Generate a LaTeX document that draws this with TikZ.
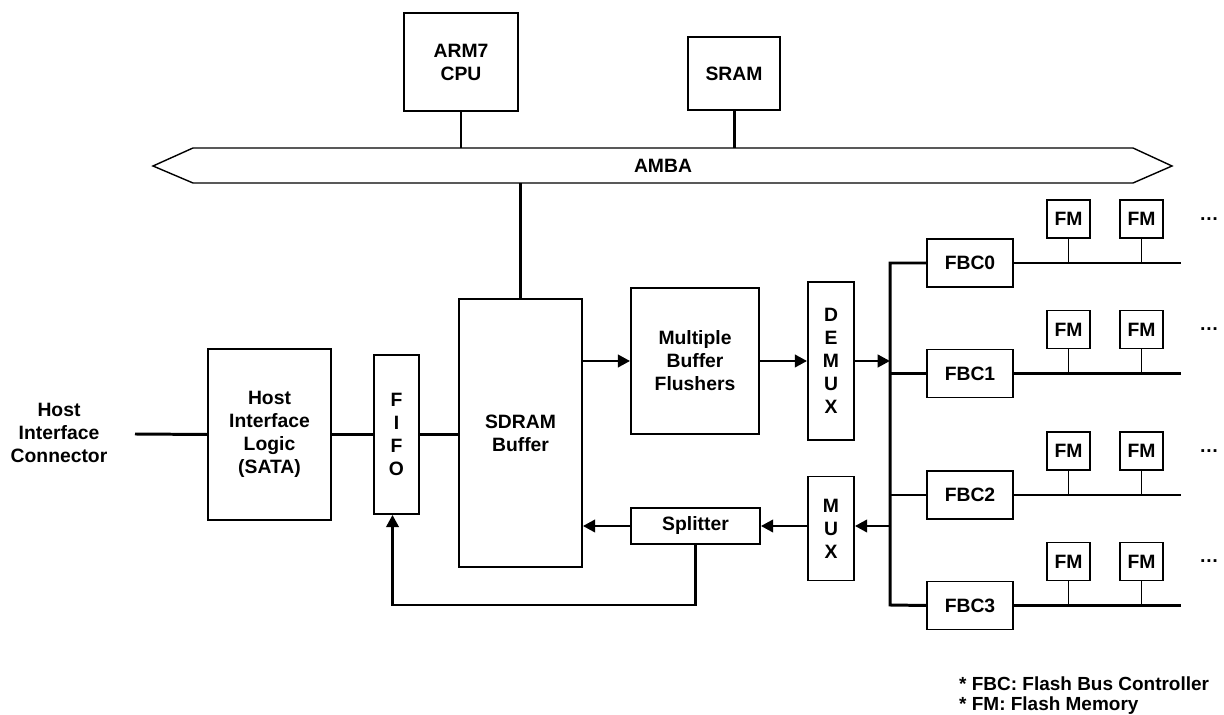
\documentclass[tikz,border=0pt]{standalone}
\usepackage{fontspec}
\setmainfont{Liberation Sans}
\usetikzlibrary{arrows.meta}

\begin{document}
\begin{tikzpicture}[x=0.02cm,y=-0.02cm,
  ssdfont/.style={font=\fontsize{11}{13.1}\selectfont\bfseries},
  ssdblk/.style={draw, line width=1pt, ssdfont, align=center, inner sep=0pt},
  ssdwire/.style={line width=1.7pt},
  ssdarr/.style={ssdwire, -{Triangle[length=7pt,width=7pt]}},
  ssdtap/.style={line width=0.7pt}]
  \useasboundingbox (0,0) rectangle (1224,715);
  % CPU, SRAM und AMBA-Bus
  \node[ssdblk, minimum width=2.28cm, minimum height=1.96cm] (cpu) at (461,62) {ARM7\\CPU};
  \node[ssdblk, minimum width=1.84cm, minimum height=1.46cm] (sram) at (734,73.5) {SRAM};
  \draw[line width=0.8pt] (153,166) -- (193,148) -- (1133,148) -- (1172,166) -- (1133,183) -- (193,183) -- cycle;
  \node[ssdfont] (amba) at (663,166) {AMBA};
  \coordinate (busT) at (0,148);
  \coordinate (busB) at (0,183);
  % Host-Seite
  \node[ssdfont, align=center] (conn) at (59,433) {Host\\Interface\\Connector};
  \coordinate (hic) at (135,434);
  \node[ssdblk, minimum width=2.46cm, minimum height=3.42cm] (host) at (269.5,434.5) {Host\\Interface\\Logic\\(SATA)};
  \node[ssdblk, minimum width=0.9cm, minimum height=3.18cm] (fifo) at (396.5,434.5) {F\\I\\F\\O};
  \node[ssdblk, minimum width=2.46cm, minimum height=5.36cm] (sdram) at (520.5,433) {SDRAM\\Buffer};
  % Flusher, Splitter, (De)Mux
  \node[ssdblk, minimum width=2.56cm, minimum height=2.92cm] (mbf) at (695,361) {Multiple\\Buffer\\Flushers};
  \node[ssdblk, minimum width=0.92cm, minimum height=3.16cm] (demux) at (831,361) {D\\E\\M\\U\\X};
  \node[ssdblk, minimum width=0.92cm, minimum height=2.08cm] (mux) at (831,528.5) {M\\U\\X};
  \node[ssdblk, minimum width=2.58cm, minimum height=0.72cm] (split) at (695.5,526) {Splitter};
  \coordinate (vbT) at (890,263);
  \coordinate (vbB) at (890,605);
  % Flash-Kanaele
  \foreach \i/\y in {0/263,1/373.5,2/495,3/605.5} {
    \node[ssdblk, minimum width=1.72cm, minimum height=0.96cm] (fbc\i) at (970,\y) {FBC\i};
    \coordinate (end\i) at (1181,\y);
    \draw[ssdwire] (fbc\i.east) -- (end\i);
    \foreach \j/\x in {a/1068.5,b/1141.5} {
      \node[ssdblk, minimum width=0.86cm, minimum height=0.76cm] (fm\i\j) at (\x,\y-44) {FM};
      \draw[ssdtap] (fm\i\j.south) -- (fm\i\j.south |- end\i);
    }
    \node[ssdfont] (dots\i) at (1209,\y-44) {…};
  }
  \draw[ssdwire] (fbc0.west) -| (vbB) -- (fbc3.west);
  \draw[ssdwire] (fbc1.west -| vbT) -- (fbc1.west);
  \draw[ssdwire] (fbc2.west -| vbT) -- (fbc2.west);
  % Verbindungen
  \draw[ssdwire] (cpu.south) -- (cpu.south |- busT);
  \draw[ssdwire] (sram.south) -- (sram.south |- busT);
  \draw[ssdwire] (sdram.north) -- (sdram.north |- busB);
  \draw[ssdwire] (hic) -- (host.west);
  \draw[ssdwire] (host.east) -- (fifo.west);
  \draw[ssdwire] (fifo.east) -- (fifo.east -| sdram.west);
  \draw[ssdarr] (mbf.west -| sdram.east) -- (mbf.west);
  \draw[ssdarr] (mbf.east) -- (demux.west);
  \draw[ssdarr] (demux.east) -- (demux.east -| vbT);
  \draw[ssdarr] (split.east -| vbT) -- (split.east -| mux.east);
  \draw[ssdarr] (split.east -| mux.west) -- (split.east);
  \draw[ssdarr] (split.west) -- (split.west -| sdram.east);
  \draw[ssdarr] (split.south) -- (split.south |- vbB) -| ([xshift=-0.08cm]fifo.south);
  % Legende
  \node[font=\fontsize{10.8}{11.4}\selectfont\bfseries, align=left, anchor=west] (legend) at (953,696) {* FBC: Flash Bus Controller\\* FM: Flash Memory};
\end{tikzpicture}
\end{document}
